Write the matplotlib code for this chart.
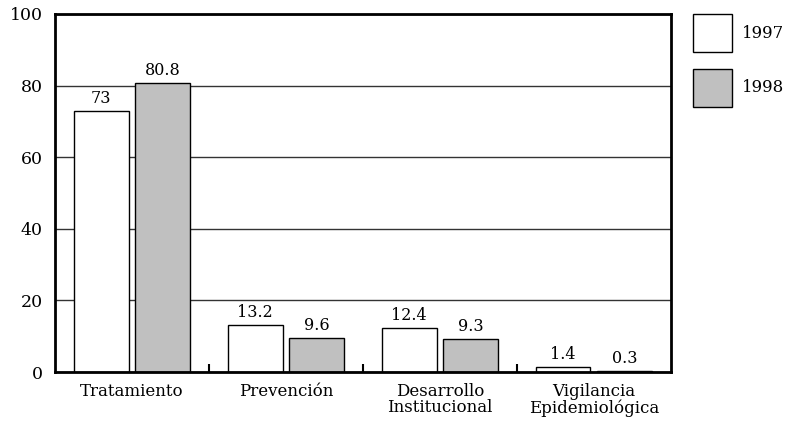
import matplotlib.pyplot as plt
import numpy as np
from matplotlib.patches import Patch

plt.rcParams['font.family'] = ['DejaVu Serif']

categories = ["Tratamiento", "Prevención", "Desarrollo\nInstitucional", "Vigilancia\nEpidemiológica"]
years = ["1997", "1998"]
values_1997 = [73, 13.2, 12.4, 1.4]
values_1998 = [80.8, 9.6, 9.3, 0.3]
yticks = [0, 20, 40, 60, 80, 100]

fig = plt.figure(figsize=(7.91, 4.24), dpi=100)
ax = fig.add_axes([0.0695, 0.1226, 0.7785, 0.8444])

x = np.arange(len(categories))
w = 0.357
off = 0.2
b1 = ax.bar(x - off, values_1997, w, color="white", edgecolor="black", linewidth=1, zorder=3)
b2 = ax.bar(x + off, values_1998, w, color="#c0c0c0", edgecolor="black", linewidth=1, zorder=3)

for bars, vals in ((b1, values_1997), (b2, values_1998)):
    for r, v in zip(bars, vals):
        ax.text(r.get_x() + r.get_width() / 2, v + 1.0, f"{v:g}", ha="center", va="bottom", fontsize=11.5)

ax.set_xlim(-0.5, len(categories) - 0.5)
ax.set_ylim(0, 100)
ax.set_yticks(yticks)
ax.tick_params(axis="y", length=0, pad=9, labelsize=12.5)
ax.set_xticks(x)
ax.set_xticklabels(categories, fontsize=12, linespacing=0.95)
ax.tick_params(axis="x", which="major", length=0, pad=8)
ax.set_xticks(x[:-1] + 0.5, minor=True)
ax.tick_params(axis="x", which="minor", direction="in", length=6, width=1.5)
ax.yaxis.grid(True, color="#333333", linewidth=1, zorder=0)
ax.set_axisbelow(True)
for s in ax.spines.values():
    s.set_linewidth(2)
    s.set_zorder(4)

handles = [Patch(facecolor="white", edgecolor="black"), Patch(facecolor="#c0c0c0", edgecolor="black")]
ax.legend(handles, years, loc="upper left", bbox_to_anchor=(1.036, 1.0), frameon=False,
          fontsize=12, handlelength=2.33, handleheight=3.13, labelspacing=1.0,
          handletextpad=0.6, borderaxespad=0, borderpad=0)

fig.savefig("out.png", dpi=100)
